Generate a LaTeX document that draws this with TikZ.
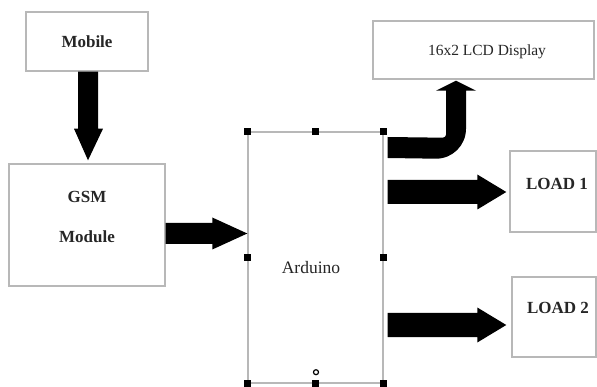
\documentclass[tikz,border=0pt]{standalone}
\usepackage{fontspec}
\setmainfont{Liberation Serif}
\usetikzlibrary{calc}
\tikzset{
  box/.style={draw=black!28, line width=1.4pt, inner sep=0pt, fill=white},
  boldlabel/.style={font=\fontsize{17}{20}\selectfont\bfseries, text=black!85, inner sep=0pt},
  plainlabel/.style={font=\fontsize{17.5}{20}\selectfont, text=black!85, inner sep=0pt},
  lcdlabel/.style={font=\fontsize{15.5}{18}\selectfont, text=black!85, inner sep=0pt},
  handle/.style={fill=black, minimum size=7pt, inner sep=0pt},
  blockarrow/.style={fill=black},
}
\newcommand{\hblock}[5]{% #1 start, #2 tip, #3 shaft half, #4 head half, #5 head length
  \fill[blockarrow] let \p1=#1, \p2=#2 in
    (\x1,\y2+#3pt) -- (\x2-#5pt,\y2+#3pt) -- (\x2-#5pt,\y2+#4pt) -- (\x2,\y2)
    -- (\x2-#5pt,\y2-#4pt) -- (\x2-#5pt,\y2-#3pt) -- (\x1,\y2-#3pt) -- cycle;}
\begin{document}
\begin{tikzpicture}[x=1pt,y=-1pt]
\useasboundingbox (0,0) rectangle (597,387);
% boxes
\node[box, minimum width=122pt, minimum height=59pt] (mobile) at (87,41.5) {};
\node[boldlabel] (mobiletext) at (87,42) {Mobile};
\node[box, minimum width=156pt, minimum height=122pt] (gsm) at (87,225) {};
\node[boldlabel] (gsmtext) at (87,197) {GSM};
\node[boldlabel] (moduletext) at (87,237) {Module};
\node[box, minimum width=135pt, minimum height=251pt] (arduino) at (315.5,257.5) {};
\node[plainlabel] (arduinotext) at (311,268) {Arduino};
\node[box, minimum width=221pt, minimum height=58pt] (lcd) at (483.5,50) {};
\node[lcdlabel] (lcdtext) at (487,52) {16x2 LCD Display};
\node[box, minimum width=86pt, minimum height=81pt] (load1) at (553,191.5) {};
\node[boldlabel] (load1text) at (557,184) {LOAD 1};
\node[box, minimum width=84pt, minimum height=80pt] (load2) at (554,317) {};
\node[boldlabel] (load2text) at (558,308) {LOAD 2};
% handles
\foreach \a/\n in {north west/h1, north/h2, north east/h3, west/h4, east/h5, south west/h6, south/h7, south east/h8}
  \node[handle] (\n) at (arduino.\a) {};
\node[draw=black, line width=1.2pt, circle, minimum size=5pt, inner sep=0pt] (rot) at ($(arduino.south)+(0.5,-11.5)$) {};
% Mobile -> GSM
\coordinate (mtip) at ($(gsm.north)+(1,-3)$);
\fill[blockarrow] ($(mobile.south)+(-9,0)$) -- ($(mobile.south)+(11,0)$)
  -- ($(mobile.south)+(11,57)$) -- ($(mobile.south)+(16,57)$) -- (mtip)
  -- ($(mobile.south)+(-13,57)$) -- ($(mobile.south)+(-9,57)$) -- cycle;
% GSM -> Arduino
\hblock{(gsm.east)}{($(arduino.west)+(0,-24)$)}{10.5}{16}{35}
% Arduino -> loads
\hblock{($(arduino.east)+(4,0)$)}{($(load1.west)+(-3,0.5)$)}{12}{17.5}{29}
\hblock{($(arduino.east)+(4,0)$)}{($(load2.west)+(-5,8)$)}{12}{17.5}{29}
% Arduino -> LCD (bent)
\coordinate (S) at ($(arduino.east |- 0,147.5)+(4,0)$);
\coordinate (T) at ($(lcd.south)+(-27.5,1)$);
\fill[blockarrow] ($(S)+(0,-10.5)$) -- ($(T)+(-13,57)$)
  .. controls ($(T)+(-11.3,57)$) and ($(T)+(-10,55.3)$) .. ($(T)+(-10,54)$)
  -- ($(T)+(-10,10)$) -- ($(T)+(-20,10)$) -- (T) -- ($(T)+(20,10)$) -- ($(T)+(10,10)$)
  -- ($(T)+(10,48)$) .. controls ($(T)+(10,64.6)$) and ($(T)+(-3.4,78)$) .. ($(T)+(-20,78)$)
  -- ($(S)+(0,10.5)$) -- cycle;
\end{tikzpicture}
\end{document}
